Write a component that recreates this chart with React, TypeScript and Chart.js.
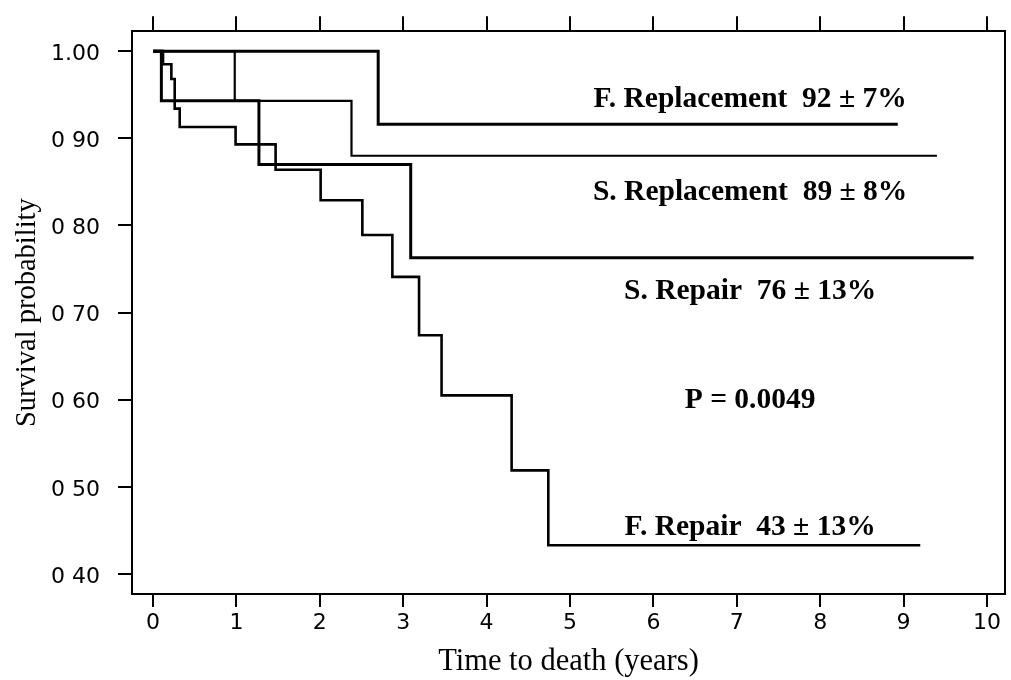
import React, { useEffect, useRef } from "react";
import { Chart, registerables } from "chart.js";

Chart.register(...registerables);

// Kaplan-Meier curves: event times (years) and survival after each event
const fReplTime = [0, 2.7, 8.93];
const fReplSurv = [1.0, 0.916, 0.916];

const sReplTime = [0, 0.98, 2.38, 9.4];
const sReplSurv = [1.0, 0.943, 0.88, 0.88];

const sRepTime = [0, 0.1, 1.27, 3.09, 9.84];
const sRepSurv = [1.0, 0.943, 0.87, 0.763, 0.763];

const fRepTime = [0, 0.12, 0.22, 0.26, 0.32, 0.99, 1.47, 2.01, 2.51, 2.87, 3.19, 3.46, 4.3, 4.74, 9.2];
const fRepSurv = [1.0, 0.985, 0.968, 0.934, 0.913, 0.893, 0.864, 0.829, 0.789, 0.741, 0.674, 0.605, 0.519, 0.433, 0.433];

const xTickValues = [0, 1, 2, 3, 4, 5, 6, 7, 8, 9, 10];
const xTickLabels = ["0", "1", "2", "3", "4", "5", "6", "7", "8", "9", "10"];
const yTickValues = [0.4, 0.5, 0.6, 0.7, 0.8, 0.9, 1.0];
const yTickLabels = ["0 40", "0 50", "0 60", "0 70", "0 80", "0 90", "1.00"];

const annotationTexts = [
  "F. Replacement  92 ± 7%",
  "S. Replacement  89 ± 8%",
  "S. Repair  76 ± 13%",
  "P = 0.0049",
  "F. Repair  43 ± 13%",
];
const annotationX = [7.16, 7.16, 7.16, 7.16, 7.16];
const annotationY = [0.936, 0.829, 0.716, 0.591, 0.445];

const X_MIN = -0.252;
const X_MAX = 10.216;
const Y_MIN = 0.3771;
const Y_MAX = 1.0229;

const toPoints = (xs: number[], ys: number[]) => xs.map((x, i) => ({ x, y: ys[i] }));

const annotationPlugin = {
  id: "kmAnnotations",
  afterDatasetsDraw(chart: any) {
    const { ctx, scales } = chart;
    const xs = scales.x;
    const ys = scales.y;
    ctx.save();
    ctx.fillStyle = "#000";
    ctx.font = 'bold 29.5px "Liberation Serif", "Times New Roman", serif';
    ctx.textAlign = "center";
    ctx.textBaseline = "alphabetic";
    annotationTexts.forEach((t, i) => {
      ctx.fillText(t, xs.getPixelForValue(annotationX[i]), ys.getPixelForValue(annotationY[i]));
    });
    ctx.restore();
  },
};

export default function App() {
  const canvasRef = useRef<HTMLCanvasElement | null>(null);

  useEffect(() => {
    const canvas = canvasRef.current;
    if (!canvas) return;
    const tickFont = { family: "DejaVu Sans", size: 22 };
    const serif = '"Liberation Serif", "Times New Roman", serif';
    const line = (data: any, width: number) => ({
      data,
      borderColor: "#000",
      borderWidth: width,
      pointRadius: 0,
      fill: false,
      stepped: "before" as const,
      tension: 0,
    });
    const chart = new Chart(canvas, {
      type: "line",
      data: {
        datasets: [
          line(toPoints(fReplTime, fReplSurv), 3),
          line(toPoints(sReplTime, sReplSurv), 2.2),
          line(toPoints(sRepTime, sRepSurv), 3),
          line(toPoints(fRepTime, fRepSurv), 2.6),
        ],
      },
      options: {
        animation: false,
        responsive: false,
        devicePixelRatio: 1,
        layout: { padding: 0 },
        plugins: { legend: { display: false }, tooltip: { enabled: false } },
        scales: {
          x: {
            type: "linear",
            position: "bottom",
            min: X_MIN,
            max: X_MAX,
            afterBuildTicks: (s: any) => {
              s.ticks = xTickValues.map((v) => ({ value: v }));
            },
            ticks: {
              font: tickFont,
              color: "#000",
              padding: 3,
              maxRotation: 0,
              autoSkip: false,
              callback: (v: any) => xTickLabels[xTickValues.indexOf(Number(v))] ?? "",
            },
            grid: { drawOnChartArea: false, drawTicks: true, tickLength: 13, color: "#000", lineWidth: 2 },
            border: { display: true, color: "#000", width: 2 },
            title: {
              display: true,
              text: "Time to death (years)",
              font: { family: serif, size: 30.5, lineHeight: 1.2 },
              color: "#000",
              padding: { top: 0, bottom: 0 },
            },
            afterFit: (s: any) => {
              s.height = 86;
            },
          },
          x2: {
            type: "linear",
            position: "top",
            min: X_MIN,
            max: X_MAX,
            afterBuildTicks: (s: any) => {
              s.ticks = xTickValues.map((v) => ({ value: v }));
            },
            ticks: { display: false },
            grid: { drawOnChartArea: false, drawTicks: true, tickLength: 15, color: "#000", lineWidth: 2 },
            border: { display: true, color: "#000", width: 2 },
            afterFit: (s: any) => {
              s.height = 29;
            },
          },
          y: {
            type: "linear",
            position: "left",
            min: Y_MIN,
            max: Y_MAX,
            afterBuildTicks: (s: any) => {
              s.ticks = yTickValues.map((v) => ({ value: v }));
            },
            ticks: {
              font: tickFont,
              color: "#000",
              padding: 18,
              labelOffset: 3,
              autoSkip: false,
              callback: (v: any) => {
                const i = yTickValues.findIndex((t) => Math.abs(t - Number(v)) < 1e-6);
                return i >= 0 ? yTickLabels[i] : "";
              },
            },
            grid: { drawOnChartArea: false, drawTicks: true, tickLength: 14, color: "#000", lineWidth: 2 },
            border: { display: true, color: "#000", width: 2 },
            title: {
              display: true,
              text: "Survival probability",
              font: { family: serif, size: 28.5, lineHeight: 1.2 },
              color: "#000",
              padding: { top: 10, bottom: 0 },
            },
            afterFit: (s: any) => {
              s.width = 132;
            },
          },
          y2: {
            type: "linear",
            position: "right",
            min: Y_MIN,
            max: Y_MAX,
            ticks: { display: false },
            grid: { drawOnChartArea: false, drawTicks: false },
            border: { display: true, color: "#000", width: 2 },
            afterFit: (s: any) => {
              s.width = 6;
            },
          },
        },
      },
      plugins: [annotationPlugin],
    } as any);
    return () => chart.destroy();
  }, []);

  return (
    <div style={{ position: "fixed", left: 0, top: 0, width: 1011, height: 680, background: "#fff" }}>
      <canvas ref={canvasRef} width={1011} height={680} style={{ display: "block", width: 1011, height: 680 }} />
    </div>
  );
}
